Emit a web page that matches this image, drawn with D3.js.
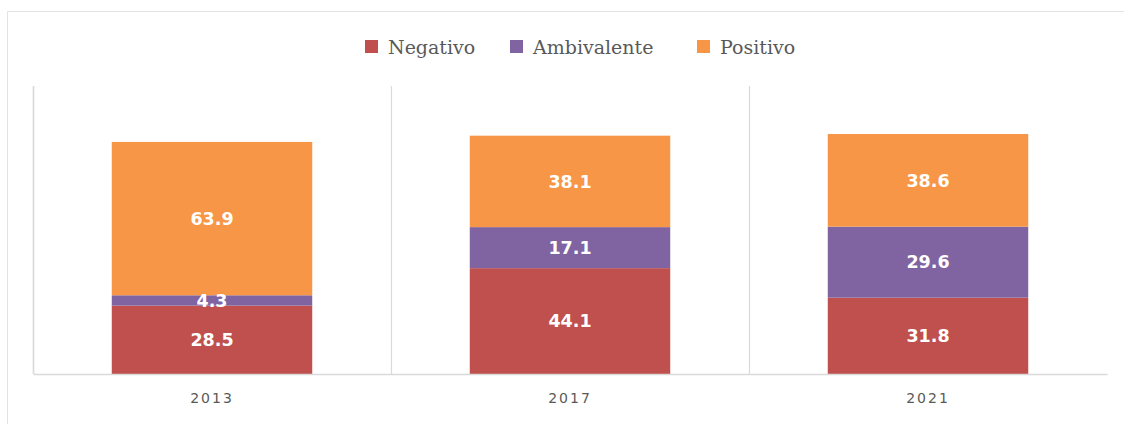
<!DOCTYPE html>
<html><head><meta charset="utf-8">
<script src="https://cdn.jsdelivr.net/npm/d3@7"></script>
<style>body{margin:0;background:#fff;}svg{display:block;}</style>
</head><body><svg id="c" width="1124" height="424"></svg>
<script>
const categories = ["2013", "2017", "2021"];
const seriesNames = ["Negativo", "Ambivalente", "Positivo"];
const negativo = [28.5, 44.1, 31.8];
const ambivalente = [4.3, 17.1, 29.6];
const positivo = [63.9, 38.1, 38.6];
const colors = ["#C0504D", "#8064A2", "#F79646"];

(function () {
const svg = d3.select("#c");
// outer chart border
svg.append("path").attr("d", "M7.5,430 L7.5,11.5 L1130,11.5")
  .attr("fill", "none").attr("stroke", "#e3e3e3").attr("stroke-width", 1);

const pLeft = 33, pRight = 1107, pTop = 86, pBottom = 374;
const x = d3.scaleBand().domain(categories).range([pLeft, pRight]).paddingInner(0.44).paddingOuter(0.22);
const band = d3.scaleBand().domain(categories).range([pLeft, pRight]);
const y = d3.scaleLinear().domain([0, 120]).range([pBottom, pTop]);

// vertical gridlines at category boundaries
const g = svg.append("g");
categories.forEach((c) => {
  const xv = Math.round(band(c)) + 0.5;
  g.append("line").attr("x1", xv).attr("x2", xv).attr("y1", pTop).attr("y2", pBottom)
    .attr("stroke", "#d9d9d9").attr("stroke-width", 1.2);
});

const table = categories.map((c, i) => ({cat: c, Negativo: negativo[i], Ambivalente: ambivalente[i], Positivo: positivo[i]}));
const stacked = d3.stack().keys(seriesNames)(table);

stacked.forEach((layer, si) => {
  const lg = svg.append("g");
  lg.selectAll("rect").data(layer).enter().append("rect")
    .attr("x", d => x(d.data.cat)).attr("width", x.bandwidth())
    .attr("y", d => y(d[1])).attr("height", d => y(d[0]) - y(d[1]))
    .attr("fill", colors[si]);
});
stacked.forEach((layer) => {
  const lg = svg.append("g");
  lg.selectAll("text").data(layer).enter().append("text")
    .attr("x", d => x(d.data.cat) + x.bandwidth() / 2)
    .attr("y", d => (y(d[0]) + y(d[1])) / 2)
    .attr("dy", "0.36em").attr("text-anchor", "middle")
    .attr("font-family", "'DejaVu Sans', sans-serif").attr("font-weight", "bold")
    .attr("font-size", 17.5).attr("fill", "#fff")
    .text(d => (d[1] - d[0]).toFixed(1));
});

// axes
const xAxis = d3.axisBottom(band).tickSize(0).tickPadding(19);
const ax = svg.append("g").attr("transform", `translate(0,${pBottom})`).call(xAxis);
ax.select(".domain").attr("stroke", "#d9d9d9").attr("stroke-width", 1.5);
ax.selectAll("text").attr("font-family", "'DejaVu Sans', sans-serif").attr("font-size", 14)
  .attr("letter-spacing", "2px").attr("fill", "#595959");
svg.append("line").attr("x1", pLeft + 0.5).attr("x2", pLeft + 0.5).attr("y1", pTop).attr("y2", pBottom)
  .attr("stroke", "#d9d9d9").attr("stroke-width", 1.5);

// legend
const legendX = [365, 510, 697];
seriesNames.forEach((s, i) => {
  const lg = svg.append("g").attr("transform", `translate(${legendX[i]},40)`);
  lg.append("rect").attr("width", 13).attr("height", 13).attr("fill", colors[i]);
  lg.append("text").attr("x", 23).attr("y", 13.5)
    .attr("font-family", "'DejaVu Serif', serif").attr("font-size", 19)
    .attr("fill", "#595959").text(s);
});
})();
</script></body></html>
